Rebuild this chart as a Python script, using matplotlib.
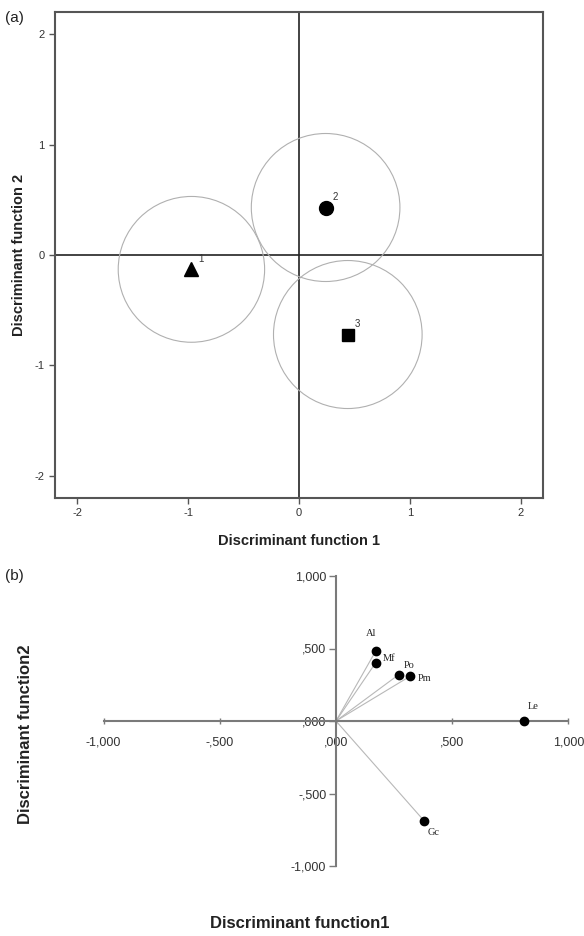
import matplotlib
matplotlib.use("Agg")
import matplotlib.pyplot as plt
from matplotlib.patches import Circle

plt.rcParams["font.family"] = ["Liberation Sans", "DejaVu Sans"]
plt.rcParams["axes.unicode_minus"] = False

# (a) group centroids on the two discriminant functions
group_labels = ["1", "2", "3"]
group_x = [-0.97, 0.24, 0.44]
group_y = [-0.13, 0.43, -0.72]
group_markers = ["^", "o", "s"]
circle_radius = [0.66, 0.67, 0.67]
a_ticks = [-2, -1, 0, 1, 2]

# (b) structure coefficients of each variable
var_names = ["Al", "Mf", "Po", "Pm", "Le", "Gc"]
var_x = [0.17, 0.17, 0.27, 0.32, 0.81, 0.38]
var_y = [0.48, 0.40, 0.32, 0.31, 0.00, -0.69]
b_ticks = [-1.0, -0.5, 0.0, 0.5, 1.0]
b_tick_labels = ["-1,000", "-,500", ",000", ",500", "1,000"]


def panel_a(fig):
    ax = fig.add_axes([55 / 584, 1 - 498 / 936, 488 / 584, 486 / 936])
    ax.set_xlim(-2.2, 2.2)
    ax.set_ylim(-2.2, 2.2)
    ax.axhline(0, color="#222222", lw=1.2, zorder=1)
    ax.axvline(0, color="#222222", lw=1.2, zorder=1)

    for x, y, r in zip(group_x, group_y, circle_radius):
        ax.add_patch(Circle((x, y), r, fill=False, ec="#b0b0b0", lw=0.8, zorder=2))

    for x, y, m, lab in zip(group_x, group_y, group_markers, group_labels):
        size = 9 if m == "s" else 10
        ax.plot(x, y, marker=m, color="black", markersize=size, ls="none", zorder=3)
        ax.annotate(lab, (x, y), xytext=(5, 4), textcoords="offset points",
                    fontsize=7, color="#333333", ha="left", va="bottom")

    ax.set_xticks(a_ticks)
    ax.set_yticks(a_ticks)
    ax.tick_params(direction="out", length=4, width=1, colors="#555555",
                   labelcolor="#333333", labelsize=8)
    for s in ax.spines.values():
        s.set_color("#555555")
        s.set_linewidth(1.5)

    ax.set_xlabel("Discriminant function 1", fontsize=10.5, fontweight="bold", color="#222222")
    ax.set_ylabel("Discriminant function 2", fontsize=10.5, fontweight="bold", color="#222222")
    ax.xaxis.set_label_coords(0.5, -0.075)
    ax.yaxis.set_label_coords(-0.06, 0.5)
    fig.text(5 / 584, 1 - 18 / 936, "(a)", fontsize=11, va="center", ha="left", color="#222222")


def panel_b(fig):
    ax = fig.add_axes([92 / 584, 1 - 880.5 / 936, 488 / 584, 319 / 936])
    ax.set_xlim(-1.05, 1.05)
    ax.set_ylim(-1.1, 1.1)

    for x, y in zip(var_x, var_y):
        ax.plot([0, x], [0, y], color="#b8b8b8", lw=0.8, zorder=1)
    ax.plot(var_x, var_y, "o", color="black", markersize=6, ls="none", zorder=3)

    offsets = {"Al": (-0.02, 0.12), "Mf": (0.06, 0.03), "Po": (0.045, 0.06),
               "Pm": (0.06, -0.02), "Le": (0.04, 0.1), "Gc": (0.04, -0.08)}
    for name, x, y in zip(var_names, var_x, var_y):
        dx, dy = offsets[name]
        ax.text(x + dx, y + dy, name, fontsize=7.5, family="Liberation Serif",
                ha="center", va="center", color="#222222")

    for side in ["top", "right"]:
        ax.spines[side].set_visible(False)
    for side in ["left", "bottom"]:
        ax.spines[side].set_position("zero")
        ax.spines[side].set_bounds(-1, 1)
        ax.spines[side].set_color("#7a7a7a")
        ax.spines[side].set_linewidth(1.5)

    ax.set_xticks(b_ticks)
    ax.set_xticklabels(b_tick_labels)
    ax.set_yticks(b_ticks)
    ax.set_yticklabels(b_tick_labels)
    ax.tick_params(axis="x", direction="inout", length=4, width=1, colors="#7a7a7a",
                   labelcolor="#333333", labelsize=9, pad=9)
    ax.tick_params(axis="y", direction="out", length=5, width=1, colors="#7a7a7a",
                   labelcolor="#333333", labelsize=9, pad=2)

    ax.set_xlabel("Discriminant function1", fontsize=12, fontweight="bold", color="#222222")
    ax.set_ylabel("Discriminant function2", fontsize=12, fontweight="bold", color="#222222")
    ax.xaxis.set_label_coords(0.426, -0.112)
    ax.yaxis.set_label_coords(-0.12, 0.46)
    fig.text(5 / 584, 1 - 576 / 936, "(b)", fontsize=11, va="center", ha="left", color="#222222")


def main():
    fig = plt.figure(figsize=(5.84, 9.36), dpi=100)
    panel_a(fig)
    panel_b(fig)
    fig.savefig("out.png", dpi=100)


main()
